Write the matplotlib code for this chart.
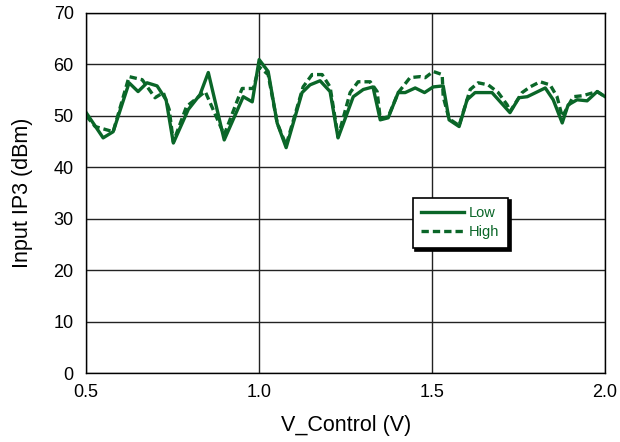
import matplotlib.pyplot as plt

# values
low_x = [0.500, 0.549, 0.578, 0.624, 0.650, 0.676, 0.705, 0.731, 0.752, 0.795,
         0.829, 0.853, 0.899, 0.954, 0.980, 1.000, 1.026, 1.052, 1.078, 1.124,
         1.147, 1.176, 1.205, 1.228, 1.272, 1.301, 1.329, 1.350, 1.373, 1.402,
         1.422, 1.451, 1.478, 1.503, 1.532, 1.549, 1.578, 1.601, 1.624, 1.673,
         1.725, 1.751, 1.775, 1.827, 1.850, 1.876, 1.893, 1.919, 1.948, 1.977,
         2.000]
low_y = [50.6, 45.7, 46.9, 56.4, 54.7, 56.4, 55.8, 53.1, 44.7, 51.2,
         54.1, 58.4, 45.3, 53.7, 52.7, 60.9, 58.6, 48.6, 43.8, 54.5,
         56.0, 56.8, 54.7, 45.7, 53.7, 55.1, 55.6, 49.2, 49.6, 54.5,
         54.5, 55.4, 54.5, 55.6, 55.8, 49.2, 47.9, 53.1, 54.5, 54.5,
         50.6, 53.5, 53.7, 55.4, 53.1, 48.6, 52.1, 53.1, 52.9, 54.7,
         53.7]

high_x = [0.500, 0.526, 0.578, 0.624, 0.662, 0.699, 0.723, 0.740, 0.752, 0.790,
          0.844, 0.899, 0.940, 0.951, 0.983, 1.000, 1.026, 1.052, 1.078, 1.127,
          1.153, 1.182, 1.205, 1.228, 1.263, 1.286, 1.321, 1.341, 1.350, 1.373,
          1.402, 1.436, 1.465, 1.480, 1.503, 1.529, 1.532, 1.549, 1.578, 1.610,
          1.633, 1.662, 1.691, 1.717, 1.725, 1.760, 1.783, 1.812, 1.841, 1.861,
          1.876, 1.908, 1.936, 1.977, 2.000]
high_y = [50.0, 47.9, 46.9, 57.6, 57.0, 53.5, 54.5, 51.2, 44.9, 51.8,
          54.7, 46.3, 53.5, 55.3, 55.3, 59.5, 58.0, 48.6, 44.3, 55.6,
          58.0, 58.0, 55.6, 45.9, 54.5, 56.6, 56.6, 54.7, 49.4, 49.8,
          54.5, 57.4, 57.6, 57.4, 58.6, 58.0, 53.7, 49.4, 48.1, 55.1,
          56.4, 56.0, 54.5, 52.1, 50.8, 54.5, 55.6, 56.6, 56.0, 53.7,
          49.8, 53.7, 53.9, 54.7, 53.7]

x_ticks = [0.5, 1.0, 1.5, 2.0]
y_ticks = [0, 10, 20, 30, 40, 50, 60, 70]

green = '#0a6628'
plt.rcParams['font.family'] = ['Liberation Sans', 'DejaVu Sans']

fig = plt.figure(figsize=(6.2, 4.42), dpi=100)
ax = fig.add_axes([0.139, 0.156, 0.837, 0.815])

ax.plot(low_x, low_y, color=green, lw=2.4, label='Low')
ax.plot(high_x, high_y, color=green, lw=2.4, ls=(0, (2.2, 1.2)), label='High')

ax.set_xlim(0.5, 2.0)
ax.set_ylim(0, 70)
ax.set_xticks(x_ticks)
ax.set_xticklabels(['%.1f' % v for v in x_ticks])
ax.set_yticks(y_ticks)
ax.tick_params(length=0, labelsize=13)
ax.tick_params(axis='x', pad=8)
ax.tick_params(axis='y', pad=9)
ax.grid(True, color='#222222', lw=1.0)
ax.set_axisbelow(True)
for s in ax.spines.values():
    s.set_color('black')
    s.set_linewidth(1.0)

ax.set_xlabel('V_Control (V)', fontsize=15.5, labelpad=10)
ax.set_ylabel('Input IP3 (dBm)', fontsize=15.5, labelpad=15)

leg = ax.legend(loc='upper left', bbox_to_anchor=(0.629, 0.487), fontsize=10.5,
                frameon=True, fancybox=False, framealpha=1, edgecolor='black',
                shadow={'color': 'black', 'alpha': 1}, handlelength=2.9,
                borderpad=0.6, labelspacing=0.35, handletextpad=0.35,
                borderaxespad=0)
leg.get_frame().set_linewidth(1.2)
for t in leg.get_texts():
    t.set_color(green)

fig.savefig('out.png', dpi=100)
